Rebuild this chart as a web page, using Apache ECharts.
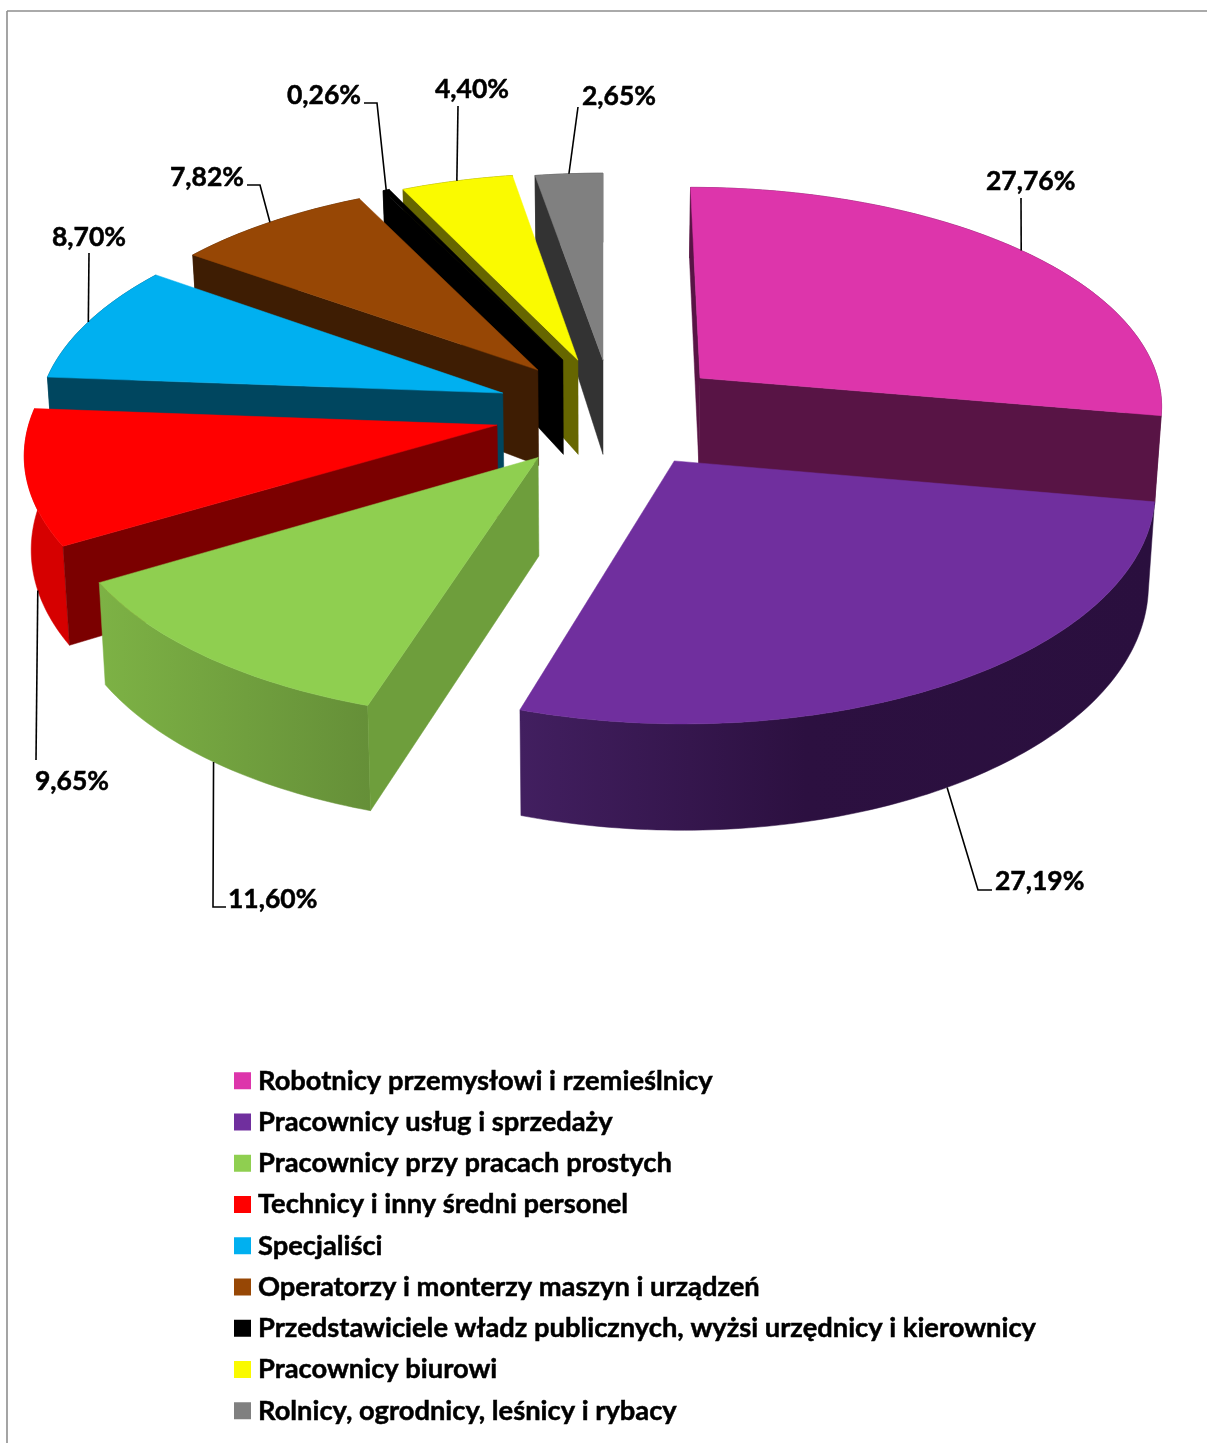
<!DOCTYPE html>
<html><head><meta charset="utf-8">
<style>html,body{margin:0;padding:0;background:#fff}#c{width:1207px;height:1443px}</style>
<script src="https://cdn.jsdelivr.net/npm/echarts@6/dist/echarts.min.js"></script>
</head><body><div id="c"></div>
<script>
// ---- data ----
const categories = ['Robotnicy przemysłowi i rzemieślnicy','Pracownicy usług i sprzedaży','Pracownicy przy pracach prostych','Technicy i inny średni personel','Specjaliści','Operatorzy i monterzy maszyn i urządzeń','Przedstawiciele władz publicznych, wyżsi urzędnicy i kierownicy','Pracownicy biurowi','Rolnicy, ogrodnicy, leśnicy i rybacy'];
const shares = [27.76,27.19,11.60,9.65,8.70,7.82,0.26,4.40,2.65];
// ---- styles ----
const topColors  = ['#DD35AB','#702F9E','#8FCF50','#FF0000','#00B0F0','#974705','#000000','#FAFA00','#808080'];
const wallColors = ['#581445','#2D1040','#6E9E3C','#7B0000','#00465F','#3E1D03','#000000','#666600','#333333'];
const rimColors  = ['#581445',null,null,'#D60000','#00465F','#3E1D03','#000000','#666600','#333333'];
const drawRank   = [1,9,8,7,6,5,4,3,2];
// explosion of each slice on the pie plane (radius = 1)
const explode = [[.212,.1466],[.1495,-.2237],[-.1363,-.209],[-.2261,-.0675],[-.2173,.077],[-.1429,.184],[-.0884,.231],[-.0553,.231],[0,.231]];
// wall height of each slice: base and change across the plane
const depths = [[89,16],[88,15],[97,7],[91,14],[100,25],[100,25],[100,25],[100,25],[100,25]];
// label layout: where the leader leaves the slice (fraction of the arc, fraction of wall height), its elbows, the text
const labelLayout = [
 {f:.5,z:0,via:[[1021,198]],x:986,y:181},
 {f:.505,z:1,via:[[978,890],[992,890]],x:995,y:881},
 {f:.49,z:1,via:[[213,907],[226,907]],x:228,y:899},
 {f:.38,z:1,via:[[36,760]],x:35,y:781},
 {f:.5,z:0,via:[[89,253]],x:52,y:237},
 {f:.5,z:0,via:[[260,185],[247,185]],x:170,y:177},
 {f:.5,z:0,via:[[377,103],[364,103]],x:287,y:95},
 {f:.5,z:0,via:[[458,106]],x:435,y:89},
 {f:.5,z:0,via:[[578,107]],x:582,y:96}
];
const CX=603, CY=410, RX=465, RY=222, P=.11, P_FAR_Y=.125, BOTTOM_SCALE=.988;
const FONT='Lato, Carlito, sans-serif';
const total = shares.reduce((a,b)=>a+b,0);

// plane point + height fraction -> screen
function project(X,Y,z,d){
  let x=CX+RX*X/(1+P*Y), y=CY-RY*Y/(1+(Y>0?P_FAR_Y:P)*Y);
  if(z){ x=CX+(x-CX)*(1-(1-BOTTOM_SCALE)*z); y+=z*(d[0]-d[1]*Y); }
  return [x,y];
}
function area(p){let a=0;for(let i=0;i<p.length;i++){const q=p[(i+1)%p.length];a+=p[i][0]*q[1]-q[0]*p[i][1];}return a/2;}

function sliceRender(i){
  return function(params,api){
    const value=api.value(0);
    let before=0; for(let k=0;k<i;k++) before+=shares[k];
    const a0=before/total*2*Math.PI, a1=(before+value)/total*2*Math.PI;
    const [ex,ey]=explode[i], d=depths[i];
    const rim=(a,z)=>project(ex+Math.sin(a),ey+Math.cos(a),z,d);
    const apex=z=>project(ex,ey,z,d);
    const n=Math.max(2,Math.ceil((a1-a0)/(Math.PI/180)));
    const arcT=[],arcB=[];
    for(let k=0;k<=n;k++){const a=a0+(a1-a0)*k/n;arcT.push(rim(a,0));arcB.push(rim(a,1));}
    const children=[];
    const poly=(pts,fill)=>children.push({type:'polygon',shape:{points:pts},style:{fill:fill,stroke:fill,lineWidth:.5}});
    // outer wall
    let rimFill=rimColors[i];
    if(i===1) rimFill=new echarts.graphic.LinearGradient(0,0,1,0,[{offset:0,color:'#421F60'},{offset:.45,color:'#2C1040'},{offset:1,color:'#2A0F3E'}]);
    if(i===2) rimFill=new echarts.graphic.LinearGradient(0,0,1,0,[{offset:0,color:'#7DB245'},{offset:1,color:'#658F38'}]);
    poly(arcT.concat(arcB.slice().reverse()),rimFill);
    // radial walls, only when they face the viewer
    const sw=[apex(0),rim(a0,0),rim(a0,1),apex(1)], ew=[apex(0),rim(a1,0),rim(a1,1),apex(1)];
    if(area(sw)<0) poly(sw,wallColors[i]);
    if(area(ew)>0) poly(ew,wallColors[i]);
    // top face
    poly([apex(0)].concat(arcT),topColors[i]);
    // leader and label
    const L=labelLayout[i];
    const start=rim(a0+(a1-a0)*L.f,L.z);
    children.push({type:'polyline',shape:{points:[start].concat(L.via)},style:{fill:null,stroke:'#000',lineWidth:1.6},z2:5});
    children.push({type:'text',x:L.x,y:L.y,style:{text:value.toFixed(2).replace('.',',')+'%',fill:'#000',stroke:'#000',lineWidth:.5,font:'bold 26.5px '+FONT,textAlign:'left',textVerticalAlign:'middle'},z2:6});
    return {type:'group',children:children};
  };
}

const chart=echarts.init(document.getElementById('c'),null,{renderer:'canvas'});
chart.setOption({
  animation:false,
  backgroundColor:'#fff',
  graphic:[
    {type:'line',shape:{x1:7,y1:11,x2:1207,y2:11},style:{stroke:'#8E8E8E',lineWidth:1.6}},
    {type:'line',shape:{x1:7,y1:11,x2:7,y2:1443},style:{stroke:'#8E8E8E',lineWidth:1.6}}
  ],
  legend:{
    orient:'vertical',left:229,top:1062,height:375,itemWidth:17,itemHeight:17,itemGap:13.75,icon:'rect',selectedMode:false,
    data:categories,
    textStyle:{fontFamily:FONT,fontWeight:'bold',fontSize:27.3,color:'#000',lineHeight:25,padding:[0,0,0,2],textBorderColor:'#000',textBorderWidth:.5}
  },
  series:categories.map((name,i)=>({
    type:'custom',name:name,coordinateSystem:'none',z:drawRank[i]+2,
    itemStyle:{color:topColors[i]},
    renderItem:sliceRender(i),silent:true,
    data:[[shares[i]]]
  }))
});
</script></body></html>
